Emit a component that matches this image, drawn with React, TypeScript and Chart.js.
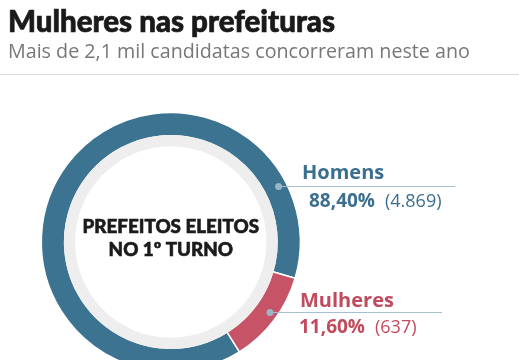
import React, { useEffect, useRef } from "react";
import { Chart, registerables } from "chart.js";

Chart.register(...registerables);

const TITLE = "Mulheres nas prefeituras";
const SUBTITLE = "Mais de 2,1 mil candidatas concorreram neste ano";
const CENTER_LINES = ["PREFEITOS ELEITOS", "NO 1º TURNO"];
const categories = ["Homens", "Mulheres"];
const percentages = [88.4, 11.6];
const counts = [4869, 637];
const colors = ["#3b7391", "#c65466"];
const textColors = ["#3a6f8e", "#c24a5e"];

const W = 519;
const H = 360;
const CANVAS_H = 430;
const CX = 170.8;
const CY = 242;
const R = 129.5;
const BW = 1.5;

const fmtPct = (v: number) =>
  v.toLocaleString("pt-BR", { minimumFractionDigits: 2, maximumFractionDigits: 2 }) + "%";
const fmtCount = (v: number) => "(" + v.toLocaleString("pt-BR") + ")";

const HEAD_FONT = "Lato";
const BODY_FONT = "'Open Sans'";

const overlayPlugin = {
  id: "overlay",
  afterDatasetsDraw(chart: any) {
    const ctx = chart.ctx as CanvasRenderingContext2D;
    const meta = chart.getDatasetMeta(0);
    const arcs = meta.data as any[];
    if (!arcs.length) return;
    const { x, y, innerRadius, outerRadius } = arcs[0].getProps(
      ["x", "y", "innerRadius", "outerRadius"],
      true
    );
    ctx.save();
    // inner gray ring
    ctx.beginPath();
    ctx.arc(x, y, innerRadius + 0.8, 0, Math.PI * 2);
    ctx.arc(x, y, innerRadius - 10.5, 0, Math.PI * 2, true);
    ctx.fillStyle = "#eeeeee";
    ctx.fill();

    // center text
    ctx.fillStyle = "#1b1b1b";
    ctx.strokeStyle = "#1b1b1b";
    ctx.lineWidth = 0.6;
    ctx.textAlign = "center";
    ctx.textBaseline = "alphabetic";
    ctx.font = `900 18.8px ${HEAD_FONT}`;
    ctx.fillText(CENTER_LINES[0], x, y - 9.5);
    ctx.strokeText(CENTER_LINES[0], x, y - 9.5);
    ctx.fillText(CENTER_LINES[1], x, y + 13.5);
    ctx.strokeText(CENTER_LINES[1], x, y + 13.5);

    // annotation lines and labels
    const ringR = outerRadius - 8;
    const labelSpecs = [
      { angle: -27.5, lineEnd: 455, textX: 302, nameY: 179, valY: 207, valX: 309 },
      { angle: 35.3, lineEnd: 442, textX: 300, nameY: 306.5, valY: 333, valX: 299 },
    ];
    labelSpecs.forEach((s, i) => {
      const a = s.angle * (Math.PI / 180);
      const dx = x + Math.cos(a) * ringR;
      const dy = Math.round(y + Math.sin(a) * ringR) + 0.5;
      ctx.strokeStyle = "#a6bfcc";
      ctx.lineWidth = 1;
      ctx.beginPath();
      ctx.moveTo(dx, dy);
      ctx.lineTo(s.lineEnd, dy);
      ctx.stroke();
      ctx.fillStyle = "#9ab5c4";
      ctx.beginPath();
      ctx.arc(dx, dy, 3.5, 0, Math.PI * 2);
      ctx.fill();

      ctx.textAlign = "left";
      ctx.fillStyle = textColors[i];
      ctx.font = `700 20px ${BODY_FONT}`;
      ctx.fillText(categories[i], s.textX, s.nameY);
      ctx.font = `700 19px ${BODY_FONT}`;
      const pct = fmtPct(percentages[i]);
      ctx.fillText(pct, s.valX, s.valY);
      const pw = ctx.measureText(pct).width;
      ctx.font = `400 18px ${BODY_FONT}`;
      ctx.fillText(fmtCount(counts[i]), s.valX + pw + 10, s.valY);
    });
    ctx.restore();
  },
};

export default function App() {
  const ref = useRef<HTMLCanvasElement | null>(null);
  useEffect(() => {
    if (!ref.current) return;
    const side = 2 * R + BW;
    const left = CX - side / 2;
    const top = CY - side / 2;
    const chart = new Chart(ref.current, {
      type: "doughnut",
      data: {
        labels: categories,
        datasets: [
          {
            data: percentages,
            backgroundColor: colors,
            borderColor: "#ffffff",
            borderWidth: BW,
          },
        ],
      },
      options: {
        animation: false,
        responsive: false,
        maintainAspectRatio: false,
        rotation: 148,
        cutout: "82%",
        layout: {
          padding: {
            left,
            top,
            right: W - (left + side),
            bottom: CANVAS_H - (top + side),
          },
        },
        plugins: {
          legend: { display: false },
          tooltip: { enabled: false },
        },
        events: [],
      },
      plugins: [overlayPlugin],
    });
    return () => chart.destroy();
  }, []);

  return (
    <div
      style={{
        position: "fixed",
        left: 0,
        top: 0,
        width: W,
        height: H,
        overflow: "hidden",
        background: "#ffffff",
      }}
    >
      <canvas
        ref={ref}
        width={W}
        height={CANVAS_H}
        style={{ position: "absolute", left: 0, top: 0, width: W, height: CANVAS_H }}
      />
      <div
        style={{
          position: "absolute",
          left: 8,
          top: 3,
          fontFamily: HEAD_FONT,
          fontWeight: 900,
          fontSize: 29.5,
          lineHeight: "36px",
          color: "#1a1a1a",
          whiteSpace: "nowrap",
          WebkitTextStroke: "0.7px #1a1a1a",
        }}
      >
        {TITLE}
      </div>
      <div
        style={{
          position: "absolute",
          left: 8,
          top: 38,
          fontFamily: BODY_FONT,
          fontSize: 19.7,
          lineHeight: "26px",
          color: "#777777",
          whiteSpace: "nowrap",
        }}
      >
        {SUBTITLE}
      </div>
      <div
        style={{
          position: "absolute",
          left: 0,
          top: 74,
          width: W,
          height: 1,
          background: "#dddddd",
        }}
      />
    </div>
  );
}
